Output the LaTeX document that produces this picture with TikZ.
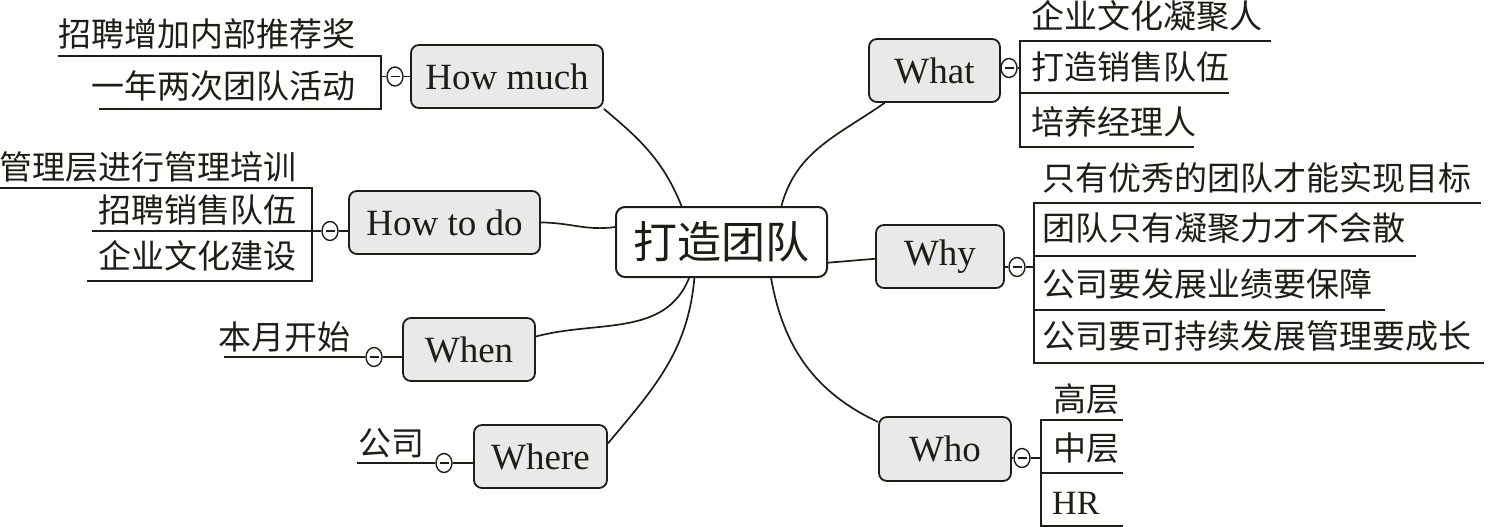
\documentclass[tikz,border=0pt]{standalone}
\usepackage{fontspec}
\setmainfont{Liberation Serif}
\newfontfamily\cjk{Noto Sans CJK SC}
\usetikzlibrary{shapes.geometric}
\definecolor{ink}{HTML}{1E1E16}
\definecolor{boxgray}{HTML}{E9E9E9}
\begin{document}
\begin{tikzpicture}[x=1pt,y=-1pt,
  root/.style={draw=ink,line width=2pt,rounded corners=9pt,fill=white,minimum width=211pt,minimum height=70pt,inner sep=0pt,text=ink,font=\cjk\fontsize{44}{50}\selectfont},
  topic/.style={draw=ink,line width=1.8pt,rounded corners=8pt,fill=boxgray,minimum height=63pt,inner sep=0pt,text=ink,font=\fontsize{37}{40}\selectfont},
  leafL/.style={anchor=east,inner sep=0pt,text=ink,font=\cjk\fontsize{33}{38}\selectfont},
  leafR/.style={anchor=west,inner sep=0pt,text=ink,font=\cjk\fontsize{33}{38}\selectfont},
  branch/.style={draw=ink,line width=1.7pt},
  rule/.style={draw=ink,line width=2.2pt},
  toggle/.style={ellipse,draw=ink,line width=1.4pt,fill=white,minimum width=16pt,minimum height=19pt,inner sep=0pt,
    path picture={\draw[ink,line width=1.8pt] ([xshift=-4.5pt]path picture bounding box.center) -- ([xshift=4.5pt]path picture bounding box.center);}}
]
\useasboundingbox (0,0) rectangle (1489,527);

% central topic
\node[root] (c) at (721.5,242) {打造团队};

% main topics
\node[topic,minimum width=192pt] (hm) at (507,76.5) {How much};
\node[topic,minimum width=191pt] (htd) at (444.5,222.5) {How to do};
\node[topic,minimum width=132pt] (when) at (469,349.5) {When};
\node[topic,minimum width=133pt] (where) at (540.5,456.5) {Where};
\node[topic,minimum width=131pt] (what) at (934.5,70.5) {What};
\node[topic,minimum width=128pt] (why) at (940,256.5) {Why};
\node[topic,minimum width=132pt,minimum height=64pt] (who) at (945,449) {Who};

% branches from the centre
\draw[branch] (hm.south east) to[out=-40,in=112] (c.138);
\draw[branch] (htd.east) to[out=0,in=188] (c.172);
\draw[branch] (when.11) to[out=15,in=-112] (c.228);
\draw[branch] (where.11) to[out=50,in=-95] (c.233);
\draw[branch] (what.213) to[out=-145,in=75] (c.31);
\draw[branch] (c.-11) -- (why.182);
\draw[branch] (c.-36) to[out=-80,in=155] (who.158);

% ---- How much
\node[toggle] (t1) at (395,76.5) {};
\coordinate (v1a) at (381,56); \coordinate (v1b) at (381,109);
\coordinate (u1a) at (58,56); \coordinate (u1b) at (99,109);
\draw[branch] (t1) -- (t1 -| hm.west);
\draw[branch] (t1) -- (t1 -| v1a);
\draw[rule] (u1a) -- (v1a) -- (v1b) -- (u1b);
\node[leafL] (l11) at (356,34) {招聘增加内部推荐奖};
\node[leafL] (l12) at (356,86) {一年两次团队活动};

% ---- How to do
\node[toggle] (t2) at (330,231) {};
\coordinate (v2a) at (312,188); \coordinate (v2b) at (312,281);
\coordinate (u2a) at (0,188); \coordinate (u2m) at (92,231); \coordinate (u2b) at (87,281);
\draw[branch] (t2) -- (t2 -| htd.west);
\draw[rule] (u2a) -- (v2a) -- (v2b) -- (u2b);
\draw[rule] (u2m) -- (t2);
\node[leafL] (l21) at (297,167) {管理层进行管理培训};
\node[leafL] (l22) at (297,210) {招聘销售队伍};
\node[leafL] (l23) at (297,256) {企业文化建设};

% ---- When
\node[toggle] (t3) at (374,357) {};
\coordinate (u3) at (224,357);
\draw[branch] (t3) -- (t3 -| when.west);
\draw[rule] (u3) -- (t3);
\node[leafL] (l31) at (351,337) {本月开始};

% ---- Where
\node[toggle] (t4) at (444,463) {};
\coordinate (u4) at (357,463);
\draw[branch] (t4) -- (t4 -| where.west);
\draw[rule] (u4) -- (t4);
\node[leafL] (l41) at (425,443) {公司};

% ---- What
\node[toggle] (t5) at (1009,68) {};
\coordinate (v5a) at (1020,41); \coordinate (v5b) at (1020,147);
\coordinate (w5a) at (1271,41); \coordinate (w5m) at (1229,93); \coordinate (w5b) at (1194,147);
\draw[branch] (t5) -- (t5 -| what.east);
\draw[branch] (t5) -- (t5 -| v5a);
\draw[rule] (w5a) -- (v5a) -- (v5b) -- (w5b);
\draw[rule] (w5m) -- (w5m -| v5a);
\node[leafR] (r11) at (1031,16) {企业文化凝聚人};
\node[leafR] (r12) at (1031,67) {打造销售队伍};
\node[leafR] (r13) at (1031,122) {培养经理人};

% ---- Why
\node[toggle] (t6) at (1017,267) {};
\coordinate (v6a) at (1034,203); \coordinate (v6b) at (1034,363);
\coordinate (w6a) at (1481,203); \coordinate (w6m) at (1416,256); \coordinate (w6n) at (1385,310); \coordinate (w6b) at (1484,363);
\draw[branch] (t6) -- (t6 -| why.east);
\draw[branch] (t6) -- (t6 -| v6a);
\draw[rule] (w6a) -- (v6a) -- (v6b) -- (w6b);
\draw[rule] (w6m) -- (w6m -| v6a);
\draw[rule] (w6n) -- (w6n -| v6a);
\node[leafR] (r21) at (1042,178) {只有优秀的团队才能实现目标};
\node[leafR] (r22) at (1042,228) {团队只有凝聚力才不会散};
\node[leafR] (r23) at (1042,284) {公司要发展业绩要保障};
\node[leafR] (r24) at (1042,336) {公司要可持续发展管理要成长};

% ---- Who
\node[toggle] (t7) at (1022,458) {};
\coordinate (v7a) at (1041,420); \coordinate (v7b) at (1041,526);
\coordinate (w7a) at (1123,420); \coordinate (w7m) at (1123,473); \coordinate (w7b) at (1123,526);
\draw[branch] (t7) -- (t7 -| who.east);
\draw[branch] (t7) -- (t7 -| v7a);
\draw[rule] (w7a) -- (v7a) -- (v7b) -- (w7b);
\draw[rule] (w7m) -- (w7m -| v7a);
\node[leafR] (r31) at (1053,399) {高层};
\node[leafR] (r32) at (1053,448) {中层};
\node[leafR,font=\fontsize{34}{38}\selectfont] (r33) at (1052,503) {HR};
\end{tikzpicture}
\end{document}
